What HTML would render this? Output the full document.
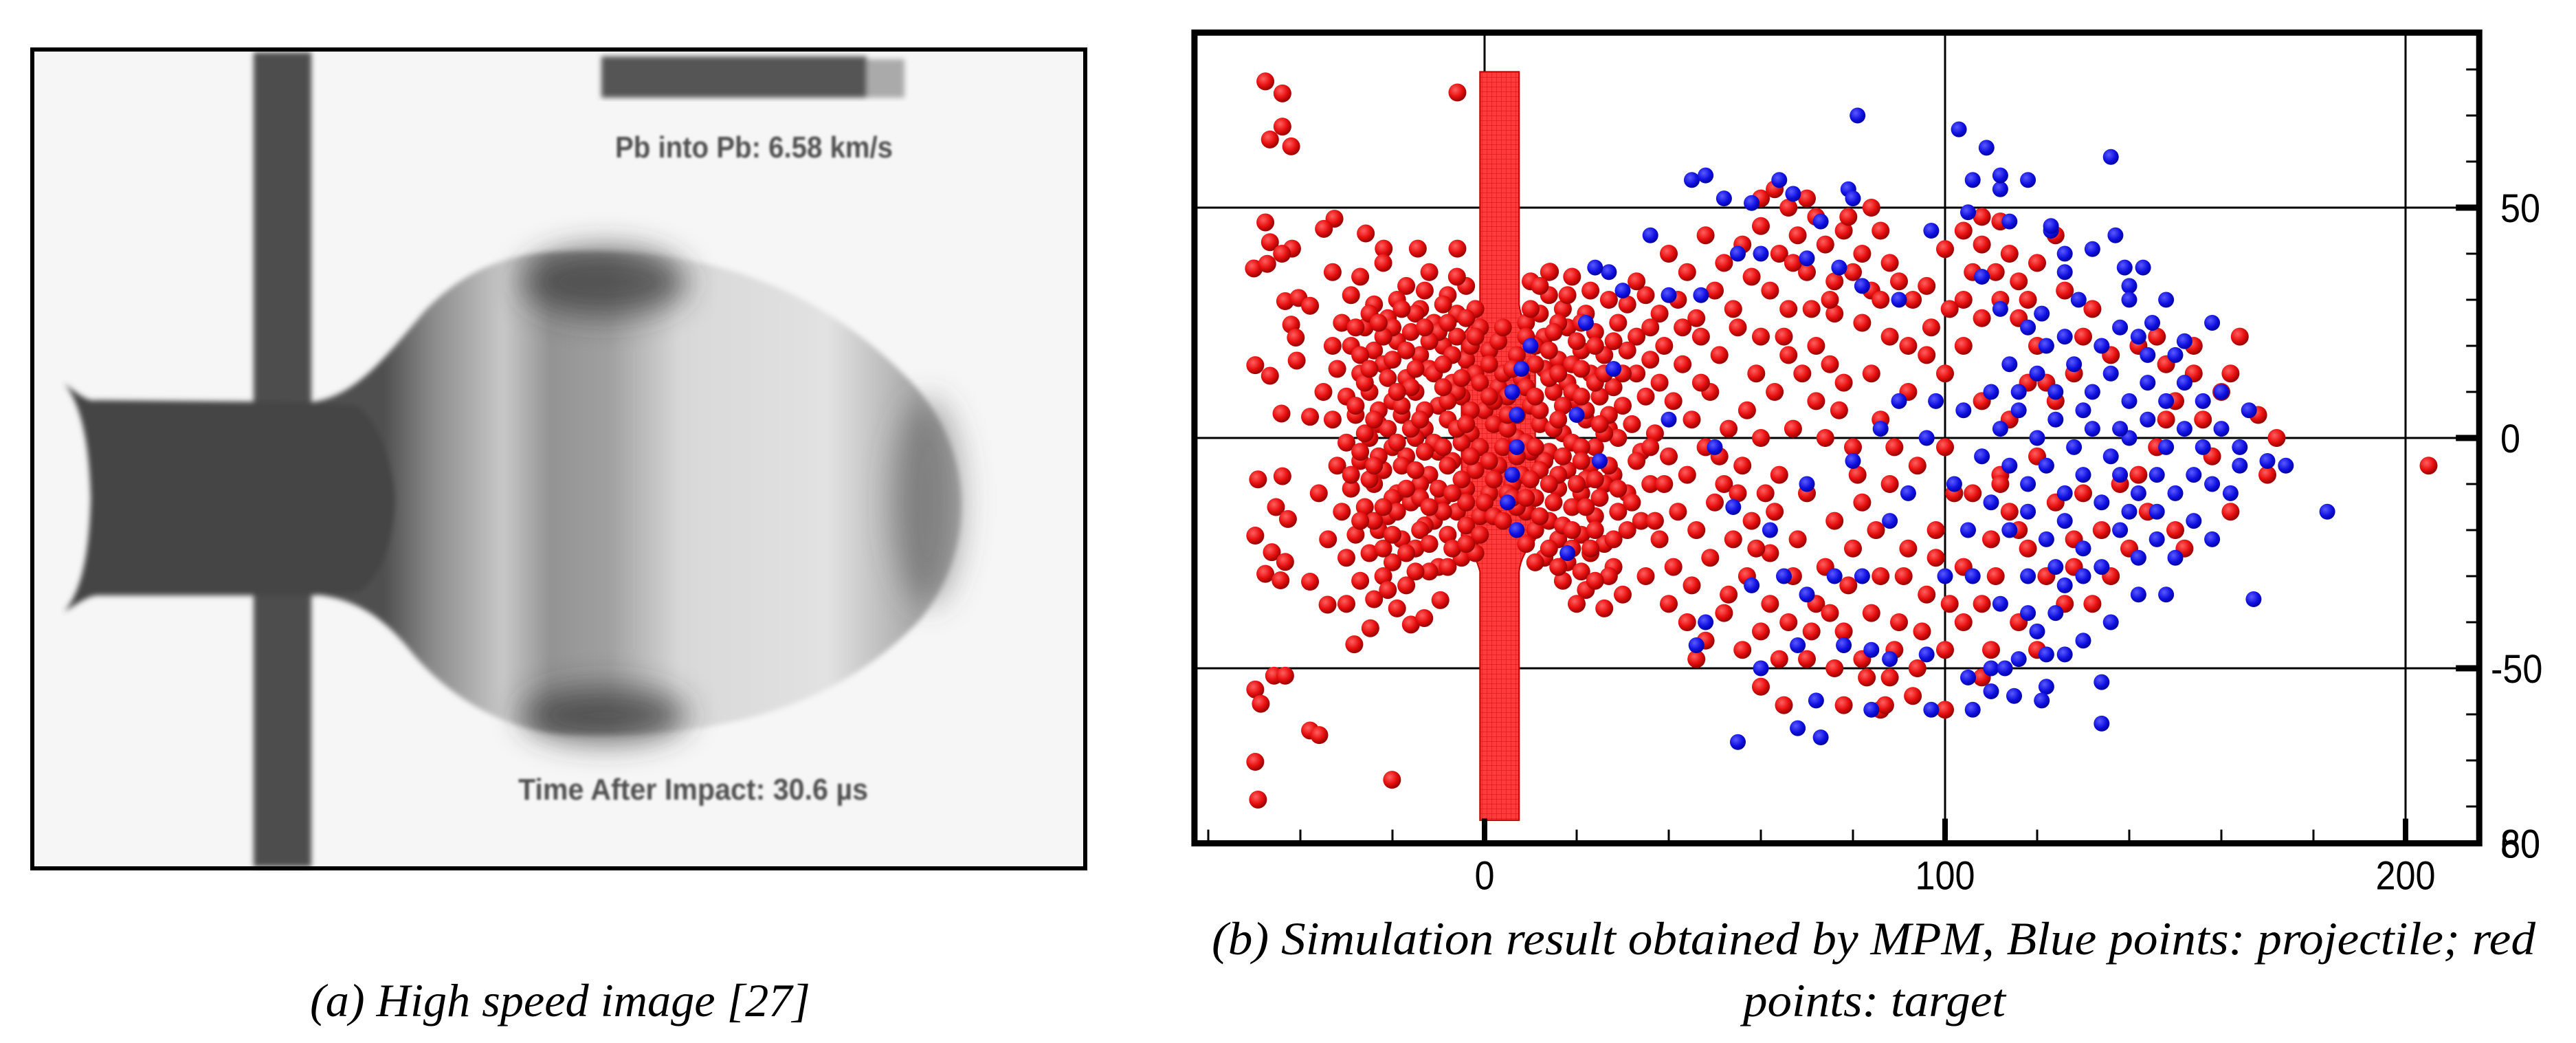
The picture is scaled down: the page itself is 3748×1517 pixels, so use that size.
<!DOCTYPE html>
<html><head><meta charset="utf-8"><style>
html,body{margin:0;padding:0;background:#fff;}
svg{display:block;}
</style></head><body>
<svg id="fig" width="3748" height="1517" viewBox="0 0 3748 1517" xmlns="http://www.w3.org/2000/svg">
<defs>
  <filter id="blur4"><feGaussianBlur stdDeviation="4"/></filter>
  <filter id="blur2"><feGaussianBlur stdDeviation="1.6"/></filter>
  <filter id="blur20"><feGaussianBlur stdDeviation="22"/></filter>
  <linearGradient id="bulbGrad" x1="560" y1="0" x2="1420" y2="0" gradientUnits="userSpaceOnUse">
    <stop offset="0" stop-color="#505050"/>
    <stop offset="0.08" stop-color="#8a8a8a"/>
    <stop offset="0.2" stop-color="#c8c8c8"/>
    <stop offset="0.28" stop-color="#939393"/>
    <stop offset="0.38" stop-color="#a0a0a0"/>
    <stop offset="0.5" stop-color="#d8d8d8"/>
    <stop offset="0.75" stop-color="#e2e2e2"/>
    <stop offset="0.9" stop-color="#a8a8a8"/>
    <stop offset="1" stop-color="#bcbcbc"/>
  </linearGradient>
  <radialGradient id="redBall" cx="0.38" cy="0.35" r="0.7">
    <stop offset="0" stop-color="#ff6060"/>
    <stop offset="0.55" stop-color="#e81010"/>
    <stop offset="1" stop-color="#8a0000"/>
  </radialGradient>
  <radialGradient id="blueBall" cx="0.38" cy="0.35" r="0.7">
    <stop offset="0" stop-color="#5a5aff"/>
    <stop offset="0.6" stop-color="#1010e0"/>
    <stop offset="1" stop-color="#00009a"/>
  </radialGradient>
  <pattern id="plateGrid" width="7" height="7" patternUnits="userSpaceOnUse">
    <rect width="7" height="7" fill="#ff3b3b"/>
    <path d="M0 0H7M0 0V7" stroke="#d81818" stroke-width="1.2"/>
  </pattern>
</defs>

<g>
  <rect x="47" y="72" width="1532" height="1191" fill="#f6f6f6"/>
  <g filter="url(#blur4)">
    <rect x="369" y="76" width="84" height="1185" fill="#4e4e4e"/>
    <path d="M453 585 C520 575 560 520 620 450 C680 390 740 368 820 366 C1000 360 1180 400 1330 560 C1420 660 1420 800 1340 900 C1200 1050 1000 1075 820 1068 C730 1062 650 1010 600 950 C560 900 520 870 453 864 Z" fill="url(#bulbGrad)"/>
    <path d="M93 557 C115 575 130 585 140 582 L453 585 L520 590 C560 620 575 700 575 725 C575 770 560 840 520 862 L453 866 L140 866 C125 868 110 880 93 890 C120 860 130 800 132 725 C130 650 120 590 93 557 Z" fill="#444"/>
  </g>
  <g filter="url(#blur20)">
    <ellipse cx="880" cy="410" rx="120" ry="50" fill="#3a3a3a" opacity="0.75"/>
    <ellipse cx="880" cy="1040" rx="120" ry="40" fill="#3a3a3a" opacity="0.75"/>
    <ellipse cx="1350" cy="730" rx="50" ry="150" fill="#555" opacity="0.5"/>
  </g>
  <g filter="url(#blur4)">
    <rect x="875" y="82" width="386" height="60" fill="#555"/>
    <rect x="1261" y="86" width="55" height="56" fill="#aaa"/>
  </g>
  <text x="895" y="229" font-family="Liberation Sans, sans-serif" font-weight="bold" font-size="44" fill="#505050" textLength="404" lengthAdjust="spacingAndGlyphs" filter="url(#blur2)">Pb into Pb: 6.58 km/s</text>
  <text x="754" y="1163" font-family="Liberation Sans, sans-serif" font-weight="bold" font-size="44" fill="#505050" textLength="509" lengthAdjust="spacingAndGlyphs" filter="url(#blur2)">Time After Impact: 30.6 µs</text>
  <rect x="47" y="72" width="1532" height="1191" fill="none" stroke="#000" stroke-width="6"/>
</g>
<text x="451" y="1478" font-family="Liberation Serif, serif" font-style="italic" font-size="68" fill="#000" textLength="728" lengthAdjust="spacingAndGlyphs">(a) High speed image [27]</text>

<g id="chart"></g>
<text x="1763" y="1388" font-family="Liberation Serif, serif" font-style="italic" font-size="68" fill="#000" textLength="1926" lengthAdjust="spacingAndGlyphs">(b) Simulation result obtained by MPM, Blue points: projectile; red</text>
<text x="2536" y="1478" font-family="Liberation Serif, serif" font-style="italic" font-size="68" fill="#000" textLength="382" lengthAdjust="spacingAndGlyphs">points: target</text>
</svg>

<script>
const xTicksMajor = [0, 100, 200];
const xTickLabels = ["0", "100", "200"];
const xTicksMinor = [-60, -40, -20, 20, 40, 60, 80, 120, 140, 160, 180];
const yTicksMajor = [-50, 0, 50];
const yTickLabels = ["-50", "0", "50"];
const yTicksMinor = [-80, -70, -60, -40, -30, -20, -10, 10, 20, 30, 40, 60, 70, 80];
const xDomain = [-63, 216];
const yDomain = [-88, 88];
const plateX = [-1, 7.5];
const plateY = [-83, 79.5];

const redPts = [
[-47.6,77.4],[-43.9,74.8],[-43.9,67.6],[-46.6,64.8],[-42,63.3],[-5.9,75],[-47.6,46.8],[-46.6,42.5],[-41.8,41.1],[-50.1,36.8],[-47.2,37.8],[-44,40],[-32.6,47.6],[-34.9,45.4],[-25.8,44.4],[-21.9,41.1],[-14.5,41.1],[-5.9,41.1],[14.2,36.1],[-43.3,29.7],[-40.4,30.4],[-37.9,28.7],[-42,24.6],[-41,21.8],[-49.8,15.8],[-40.8,16.8],[-46.6,13.5],[-44.1,5.3],[-37.9,4.6],[-49.2,-9],[-43.9,-8.3],[-45.3,-15],[-42.7,-17.6],[-49.8,-21.2],[-46.2,-24.8],[-43.3,-26.9],[-47.6,-29.5],[-44.3,-30.9],[-37.9,-31.2],[-34.1,-36.2],[-28.3,-44.8],[-24.8,-41.3],[-16,-40.5],[-13.1,-39.1],[-9.6,-35.2],[-49.8,-54.6],[-48.6,-57.7],[-45.7,-51.6],[-43.3,-51.6],[-37.9,-63.5],[-35.9,-64.5],[-49.8,-70.3],[-49.2,-78.5],[-20.1,-74.2],
[-33,36],[-27,35],[-22,38],[-17,33],[-12,36],[-8,31],[-29,31],[-24,29],[-19,30],[-14,28],[-4,33],[-2,28],[10,34],[14,31],[19,35],[23,32],[27,30],[17,28],[22,27],[31,29],[35,31],[38,27],
[-31,25],[-26,24],[-21,26],[-16,23],[-11,25],[-6,22],[-1,24],[9,25],[13,22],[18,24],[24,23],[29,25],[33,22],[-29,20],[-24,19],[-19,21],[-14,18],[-9,20],[-4,17],[1,19],[7,18],[11,20],[16,17],[21,19],[26,18],[31,19],[36,17],
[-32,15],[-27,14],[-22,16],[-17,13],[-12,15],[-7,12],[-2,14],[3,11],[8,13],[13,15],[18,12],[23,14],[28,11],[33,14],[-30,9],[-25,10],[-20,8],[-15,10],[-10,7],[-5,9],[0,6],[5,9],[10,7],[15,10],[20,8],[25,9],[30,7],[35,9],
[-33,4],[-28,5],[-23,3],[-18,5],[-13,2],[-8,4],[-3,1],[2,3],[7,0],[12,3],[17,1],[22,4],[27,2],[32,3],[37,1],[-30,-1],[-25,0],[-20,-2],[-15,0],[-10,-3],[-5,-1],[4,-2],[9,-1],[14,-3],[19,-1],[24,-2],[29,0],[34,-3],
[-32,-6],[-27,-5],[-22,-7],[-17,-4],[-12,-8],[-7,-5],[-2,-7],[3,-6],[8,-8],[13,-5],[18,-7],[23,-6],[28,-8],[33,-5],[-29,-11],[-24,-10],[-19,-12],[-14,-10],[-9,-13],[-4,-11],[1,-12],[6,-10],[11,-13],[16,-11],[21,-12],[26,-10],[31,-12],[36,-10],
[-31,-16],[-26,-15],[-21,-17],[-16,-14],[-11,-18],[-6,-16],[-1,-17],[9,-16],[14,-18],[19,-15],[24,-17],[29,-16],[34,-18],[-28,-21],[-23,-20],[-18,-22],[-13,-19],[-8,-21],[-3,-22],[11,-20],[16,-22],[21,-21],[26,-23],[31,-20],
[-30,-26],[-25,-25],[-20,-27],[-15,-24],[-10,-28],[-5,-26],[13,-26],[18,-27],[23,-25],[28,-28],[-27,-31],[-22,-30],[-17,-32],[-12,-29],[17,-31],[22,-33],[27,-30],[-24,-35],[-19,-37],[-30,-36],[20,-36],[26,-37],[30,-34],
[-25,27],[-20,24],[-15,27],[-10,23],[-6,27],[12,27],[16,25],[20,21],[-27,18],[-22,22],[-17,19],[-12,21],[-7,18],[-3,20],[3,21],[9,22],[14,19],[19,16],[24,20],[-26,12],[-21,13],[-16,11],[-11,14],[-6,10],[-1,12],[4,14],[9,11],[14,13],[19,10],[24,12],[-28,7],[-23,6],[-18,7],[-13,6],[-8,8],[-3,6],[2,8],[7,5],[12,6],[17,7],[22,6],[27,5],[-26,1],[-21,2],[-16,2],[-11,-1],[-6,2],[-1,-2],[5,2],[10,-3],[15,2],[21,-2],[26,1],[-27,-3],[-23,-4],[-18,-6],[-13,-3],[-8,-6],[-3,-4],[2,-9],[7,-4],[12,-7],[17,-4],[22,-9],[27,-6],[-25,-9],[-20,-13],[-15,-7],[-10,-11],[-5,-9],[0,-14],[5,-12],[10,-9],[15,-14],[20,-10],[25,-13],[-24,-18],[-19,-16],[-14,-20],[-9,-16],[-4,-19],[2,-17],[7,-15],[12,-17],[17,-19],[22,-15],[-22,-24],[-17,-25],[-12,-23],[-7,-24],[-2,-25],[9,-23],[14,-24],[19,-24],[24,-20],[-9,29],[-4,26],[14,36],[30,14],[32,-14],[-34,-22],[-35,10],[-36,-12],[-33,20],
[-23,25],[-18,28],[-13,24],[-8,25],[-2,22],[4,24],[10,28],[15,23],[21,25],[-25,15],[-20,17],[-15,15],[-9,16],[-5,13],[1,16],[6,15],[11,16],[16,14],[21,15],[26,14],[-24,4],[-19,10],[-14,4],[-9,11],[-4,3],[1,9],[5,5],[11,9],[16,4],[21,9],[25,3],[-24,-6],[-19,-1],[-14,-13],[-9,-2],[-4,-14],[1,-5],[6,-13],[11,-2],[16,-8],[21,-5],[24,-9],[-22,-15],[-17,-11],[-12,-15],[-7,-12],[-1,-21],[4,-18],[9,-13],[14,-10],[19,-20],[23,-24],[-20,-21],[-15,-29],[-8,-28],[-4,-23],[11,-27],[16,-28],[21,-29],[-21,-33],[24,-31],[-13,32],[-6,35],[12,33],[18,31],[-28,24],[28,21],[-29,-8],[29,-11],[-27,-18],[28,-22]
,
[40,40],[44,36],[48,44],[52,38],[56,42],[60,46],[42,30],[46,26],[50,32],[54,28],[58,35],[39,20],[43,16],[47,22],[51,18],[55,24],[59,14],[41,8],[45,4],[49,10],[53,2],[57,6],[40,-4],[44,-8],[48,-2],[52,-10],[56,-6],[60,0],[42,-16],[46,-20],[50,-14],[54,-22],[58,-18],[41,-28],[45,-32],[49,-26],[53,-34],[57,-30],[44,-40],[48,-44],[52,-38],[56,-46],[60,-42],[39,-10],[38,-22],[62,-25],[62,-36],[46,-48],[64,-48],
[60,52],[63,54],[66,50],[70,52],[72,48],[68,44],[64,40],[74,42],[78,45],[82,40],[86,45],[80,36],[76,34],[84,32],[88,38],[90,34],[93,30],[70,36],[62,32],[66,28],[96,33],[100,41],[104,45],[108,48],[108,42],[112,47],[114,40],[111,36],[106,36],[104,30],[108,26],[112,30],[116,34],[120,38],[124,44],[126,32],[132,28],[60,22],[66,18],[72,20],[76,27],[82,25],[88,22],[84,14],[78,12],[72,8],[67,2],[74,0],[80,-2],[86,4],[92,10],[96,18],[100,14],[104,20],[108,8],[100,-2],[94,-6],[88,-10],[82,-14],[76,-18],[70,-12],[64,-8],[68,-22],[74,-28],[80,-24],[86,-30],[92,-24],[96,-34],[90,-40],[84,-38],[78,-42],[72,-36],[66,-40],[70,-48],[76,-50],[82,-48],[88,-52],[94,-50],[100,-46],[104,-40],[108,-36],[104,-28],[110,-22],[98,-20],[106,-12],[112,-8],[114,-16],[118,-24],[122,-30],[126,-36],[116,-40],[110,-46],[108,-52],[120,-46],[128,-28],[132,-36],[65,-58],[78,-58],[86,-59],[87,-58],[100,-59],[60,-54],[112,-10],[114,4],[118,12],[120,20],[116,26],[124,8],[128,14],[130,22],[136,18],[142,20],[146,22],[148,16],[154,14],[150,8],[156,4],[146,-2],[138,-10],[144,-16],[150,-20],[140,-24],[134,-20],[128,-22],[160,10],[162,14],[164,22],[168,5],[172,0],[170,-8],[205,-6],[152,-24],
[33,34],[36,24],[38,12],[36,-2],[37,-18],[35,-30],[40,-36],[43,24],[47,12],[51,-4],[55,-12],[59,-24],[61,-12],[63,10],[65,22],[67,38],[71,28],[75,16],[77,6],[81,-8],[85,-20],[89,-2],[91,-30],[95,-42],[97,24],[101,28],[102,-12],[98,-26],[92,20],[86,30],[79,48],[84,50],[75,30],[69,14],[63,-16],[67,-30],[71,-42],[75,-38],[79,-32],[83,-52],[89,-46],[93,-56],[101,-36],[111,-30],[116,-20],[120,-4],[124,-14],[118,30],[122,12],[130,-12],[136,-30],[142,-8],[148,4],[154,20],[158,-4],[162,-16]
];
const bluePts = [
[81,70],[103,67],[109,63],[136,61],[106,56],[112,54],[112,57],[118,56],[45,56],[48,57],[64,56],[79,54],[80,52],[52,52],[58,51],[67,53],[105,49],[114,47],[123,45],[123,46],[137,44],[126,40],[132,41],[139,37],[143,37],[140,33],[126,36],[129,30],[90,30],[82,33],[77,37],[73,47],[60,40],[55,40],[36,44],[27,36],[30,32],[40,31],[47,31],[24,37],[97,45],[70,39],[108,35],[112,28],[118,24],[121,27],[140,30],[148,30],[142,22],[158,25],[152,21],[145,25],[22,25],[10,20],[8,15],[6,10],[7,5],[7,-2],[6,-8],[5,-14],[7,-20],[18,-25],[20,5],[25,-5],[28,15],[40,4],[50,-2],[54,-15],[62,-20],[70,-10],[80,-5],[86,2],[90,8],[96,0],[92,-12],[88,-18],[82,-30],[76,-30],[70,-34],[65,-30],[58,-32],[48,-40],[46,-45],[60,-50],[68,-45],[78,-45],[84,-46],[88,-48],[96,-47],[105,-52],[110,-50],[113,-50],[122,-54],[122,-47],[126,-47],[55,-66],[68,-63],[72,-57],[84,-59],[73,-65],[97,-59],[106,-59],[110,-55],[115,-56],[121,-57],[134,-62],[134,-53],[183,-16],[167,-35],[174,-6],[170,-5],[164,-6],[160,10],
[112,2],[116,6],[120,0],[124,4],[128,-2],[132,2],[136,-4],[140,0],[144,4],[148,-2],[152,2],[156,-2],[160,2],[114,-6],[118,-10],[122,-6],[126,-12],[130,-8],[134,-14],[138,-8],[142,-12],[146,-8],[150,-12],[154,-8],[158,-10],[116,10],[120,14],[124,10],[128,16],[132,10],[136,14],[140,8],[144,12],[148,8],[152,12],[156,8],[110,-14],[114,-20],[118,-16],[122,-22],[126,-18],[130,-24],[134,-28],[138,-20],[142,-26],[146,-22],[150,-26],[124,-28],[118,-30],[130,-30],[126,-32],[122,20],[126,22],[134,20],[138,24],[144,18],[150,18],[130,6],[138,2],[146,-16],[154,-18],[158,-22],[140,-16],[162,-12],[164,-2],[166,6],[108,-4],[110,10],[114,16],[105,-20],[102,-10],[104,6],[98,8],[100,-30],[106,-30],[112,-36],[118,-38],[124,-38],[130,-44],[136,-40],[142,-34],[148,-34],[116,-48],[120,-42]
];

const NS = "http://www.w3.org/2000/svg";
const chart = document.getElementById("chart");
const X = v => 2160 + 6.7 * v;
const Y = v => 637 - 6.7 * v;
function mk(tag, attrs, parent) {
  const e = document.createElementNS(NS, tag);
  for (const k in attrs) e.setAttribute(k, attrs[k]);
  (parent || chart).appendChild(e);
  return e;
}
const L = X(xDomain[0]), R = X(xDomain[1]), T = Y(yDomain[1]), B = Y(yDomain[0]);

xTicksMajor.forEach(v => {
  const g = mk("line", {x1: X(v), x2: X(v), y1: T, y2: B, stroke: "#000", "stroke-width": 3});
  
  
});
yTicksMajor.forEach(v => {
  const g = mk("line", {x1: L, x2: R, y1: Y(v), y2: Y(v), stroke: "#000", "stroke-width": 3});
  
  
});

const plate = mk("path", {
  d: `M${X(plateX[0])} ${Y(plateY[1])} L${X(plateX[1])} ${Y(plateY[1])} L${X(plateX[1])} ${Y(29)} C${X(8)} ${Y(25)} ${X(10)} ${Y(23.5)} ${X(11)} ${Y(22)} L${X(11)} ${Y(-22)} C${X(10)} ${Y(-23.5)} ${X(8)} ${Y(-25)} ${X(plateX[1])} ${Y(-29)} L${X(plateX[1])} ${Y(plateY[0])} L${X(plateX[0])} ${Y(plateY[0])} L${X(plateX[0])} ${Y(-29)} C${X(-2)} ${Y(-25)} ${X(-4)} ${Y(-23.5)} ${X(-5)} ${Y(-22)} L${X(-5)} ${Y(22)} C${X(-4)} ${Y(23.5)} ${X(-2)} ${Y(25)} ${X(plateX[0])} ${Y(29)} Z`,
  fill: "url(#plateGrid)", stroke: "#c00000", "stroke-width": 2});



const redG = mk("g", {});


redPts.forEach(p => {
  const c = mk("circle", {cx: X(p[0]), cy: Y(p[1]), r: 13, fill: "url(#redBall)"}, redG);
  
  
});
const blueG = mk("g", {});


bluePts.forEach(p => {
  const c = mk("circle", {cx: X(p[0]), cy: Y(p[1]), r: 11.5, fill: "url(#blueBall)"}, blueG);
  
  
});

const frame = mk("rect", {x: L, y: T, width: R - L, height: B - T, fill: "none", stroke: "#000", "stroke-width": 9});



xTicksMinor.forEach(v => {
  const t = mk("line", {x1: X(v), x2: X(v), y1: B, y2: B - 20, stroke: "#000", "stroke-width": 3});
  
  
});
xTicksMajor.forEach((v, i) => {
  const t = mk("line", {x1: X(v), x2: X(v), y1: B, y2: B - 36, stroke: "#000", "stroke-width": 8});
  
  
  const lb = mk("text", {x: X(v), y: B + 67, "text-anchor": "middle", "font-family": "Liberation Sans, sans-serif", "font-size": 58, fill: "#000", transform: `translate(${X(v)} 0) scale(0.9 1) translate(${-X(v)} 0)`});
  lb.textContent = xTickLabels[i];
  
  
});
yTicksMinor.forEach(v => {
  const t = mk("line", {x1: R, x2: R - 19, y1: Y(v), y2: Y(v), stroke: "#000", "stroke-width": 3});
  
  
});
yTicksMajor.forEach((v, i) => {
  const t = mk("line", {x1: R, x2: R - 34, y1: Y(v), y2: Y(v), stroke: "#000", "stroke-width": 9});
  
  
  const lx = yTickLabels[i].startsWith("-") ? 3624 : 3638;
  const lb = mk("text", {x: lx, y: Y(v) + 21, "font-family": "Liberation Sans, sans-serif", "font-size": 58, fill: "#000", transform: `translate(${lx} 0) scale(0.9 1) translate(${-lx} 0)`});
  lb.textContent = yTickLabels[i];
  
  
});
["60", "80"].forEach(s => {
  const lb = mk("text", {x: 3638, y: B + 21, "font-family": "Liberation Sans, sans-serif", "font-size": 58, fill: "#000", transform: `translate(3638 0) scale(0.9 1) translate(-3638 0)`});
  lb.textContent = s;
  
  
});
</script>
</body></html>
